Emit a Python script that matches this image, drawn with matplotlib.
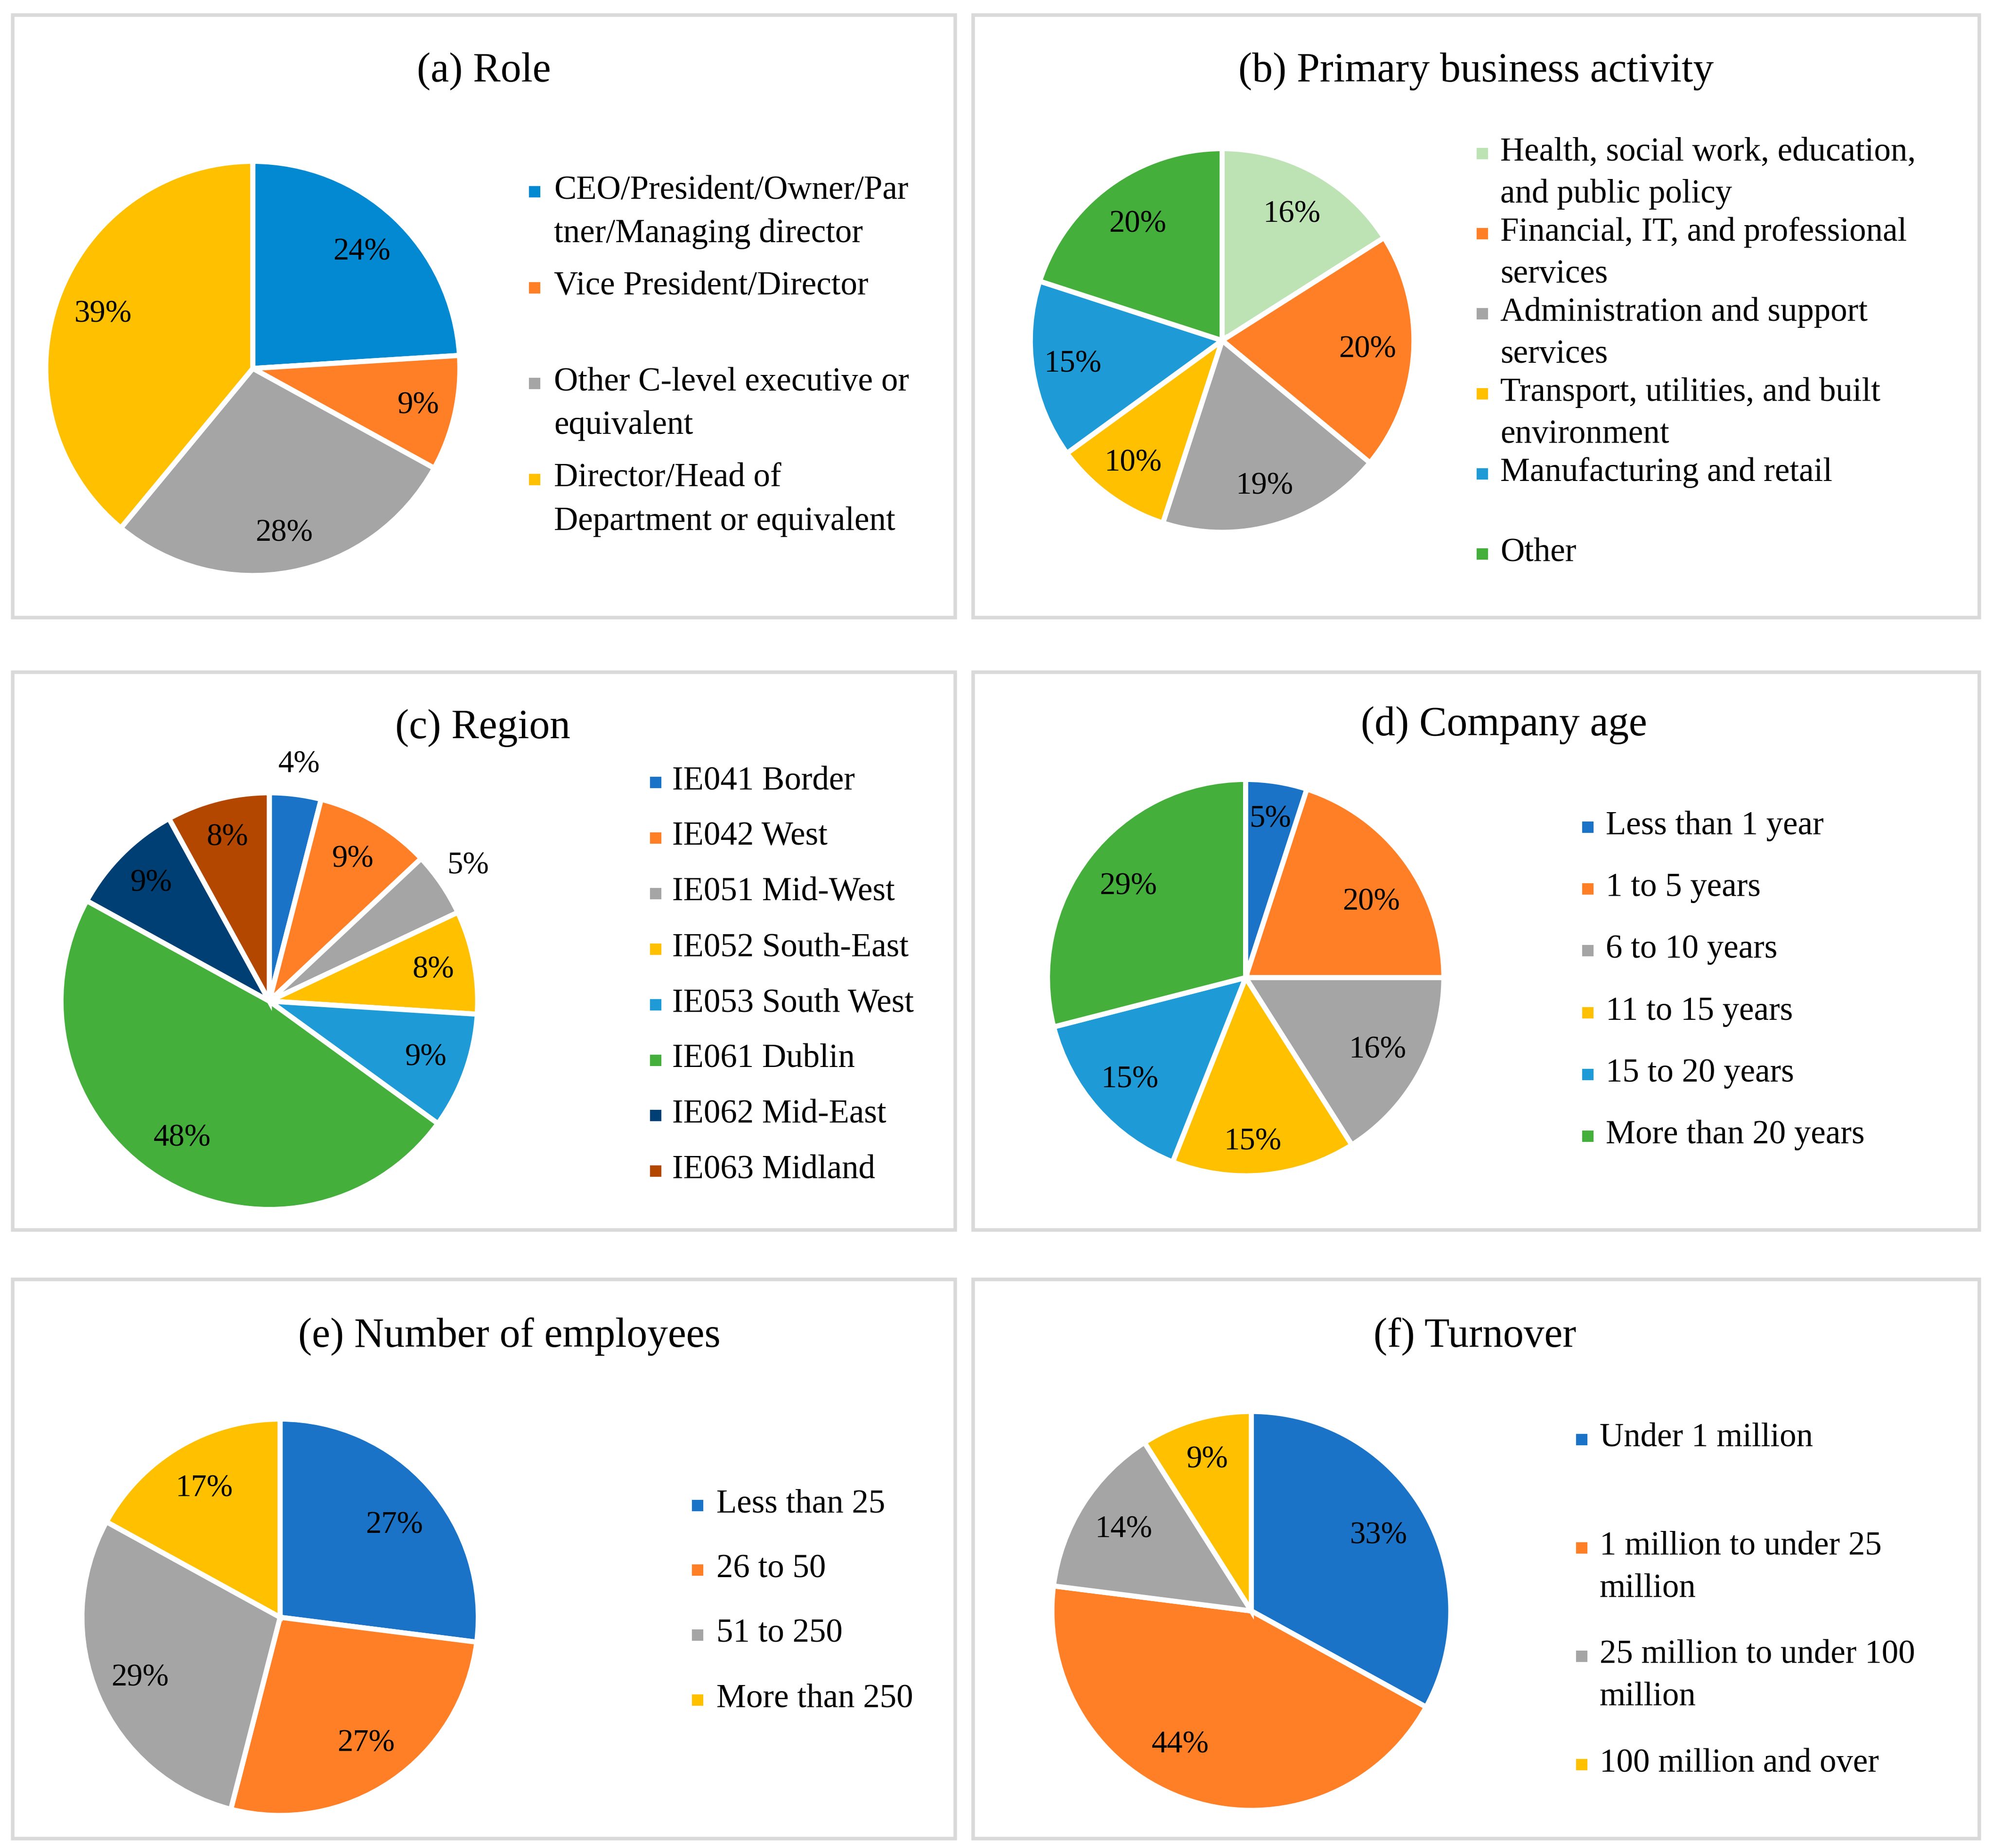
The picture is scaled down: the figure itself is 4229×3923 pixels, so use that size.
import matplotlib
matplotlib.use("Agg")
import matplotlib.pyplot as plt
import numpy as np
from matplotlib.patches import Rectangle

plt.rcParams['font.family'] = ['Liberation Serif', 'DejaVu Serif']

# ---- data ----
role_labels = ["CEO/President/Owner/Par\ntner/Managing director",
               "Vice President/Director",
               "Other C-level executive or\nequivalent",
               "Director/Head of\nDepartment or equivalent"]
role_values = [24, 9, 28, 39]

activity_labels = ["Health, social work, education,\nand public policy",
                   "Financial, IT, and professional\nservices",
                   "Administration and support\nservices",
                   "Transport, utilities, and built\nenvironment",
                   "Manufacturing and retail",
                   "Other"]
activity_values = [16, 20, 19, 10, 15, 20]

region_labels = ["IE041 Border", "IE042 West", "IE051 Mid-West", "IE052 South-East",
                 "IE053 South West", "IE061 Dublin", "IE062 Mid-East", "IE063 Midland"]
region_values = [4, 9, 5, 8, 9, 48, 9, 8]

age_labels = ["Less than 1 year", "1 to 5 years", "6 to 10 years",
              "11 to 15 years", "15 to 20 years", "More than 20 years"]
age_values = [5, 20, 16, 15, 15, 29]

employee_labels = ["Less than 25", "26 to 50", "51 to 250", "More than 250"]
employee_values = [27, 27, 29, 17]

turnover_labels = ["Under 1 million", "1 million to under 25\nmillion",
                   "25 million to under 100\nmillion", "100 million and over"]
turnover_values = [33, 44, 14, 9]

titles = ["(a) Role", "(b) Primary business activity", "(c) Region",
          "(d) Company age", "(e) Number of employees", "(f) Turnover"]

# ---- colours ----
BLUE = "#1A73C7"
ORANGE = "#FF7F27"
GREY = "#A5A5A5"
YELLOW = "#FFC000"
LBLUE = "#1E9BD7"
GREEN = "#44AF3B"
role_colors = ["#0289D2", ORANGE, GREY, YELLOW]
activity_colors = ["#BDE3B4", ORANGE, GREY, YELLOW, LBLUE, GREEN]
region_colors = [BLUE, ORANGE, GREY, YELLOW, LBLUE, GREEN, "#003F73", "#B34700"]
age_colors = [BLUE, ORANGE, GREY, YELLOW, LBLUE, GREEN]
employee_colors = [BLUE, ORANGE, GREY, YELLOW]
turnover_colors = [BLUE, ORANGE, GREY, YELLOW]

# ---- layout (in a 1568 x 1454.6 reference grid) ----
W, H = 1568.0, 1454.6
TITLE_FS = 21
LEG_FS = 17
PCT_FS = 16

fig = plt.figure(figsize=(4229 / 300, 3923 / 300), dpi=300)
base = fig.add_axes([0, 0, 1, 1])
base.set_xlim(0, W)
base.set_ylim(H, 0)
base.axis('off')


def draw_pie(cx, cy, r, values, colors, dists, nudges=None):
    if nudges is None:
        nudges = [0] * len(values)
    ax = fig.add_axes([(cx - r) / W, 1 - (cy + r) / H, 2 * r / W, 2 * r / H])
    wedges, _ = ax.pie(values, colors=colors, startangle=90, counterclock=False,
                       wedgeprops=dict(edgecolor='white', linewidth=2.6, clip_on=False))
    ax.set_xlim(-1, 1)
    ax.set_ylim(-1, 1)
    ax.set_aspect('equal')
    ax.axis('off')
    # label placement: distance from centre (fraction of radius) and angle nudge
    for w, v, d, n in zip(wedges, values, dists, nudges):
        ang = np.deg2rad((w.theta1 + w.theta2) / 2 + n)
        ax.text(d * np.cos(ang), d * np.sin(ang), f"{v}%", ha='center', va='center',
                fontsize=PCT_FS, clip_on=False)


def draw_legend(labels, colors, mx, tx, y0, dy, lh):
    for i, (lab, c) in enumerate(zip(labels, colors)):
        y = y0 + i * dy
        base.plot(mx, y + 1, marker='s', ms=5.0, color=c, linestyle='none')
        for j, line in enumerate(lab.split("\n")):
            base.text(tx, y + j * lh, line, ha='left', va='center', fontsize=LEG_FS)


boxes = [(10, 12, 752, 486), (766, 12, 1558, 486),
         (10, 529, 752, 968), (766, 529, 1558, 968),
         (10, 1007, 752, 1447), (766, 1007, 1558, 1447)]
title_pos = [(381, 56), (1162, 56), (380, 573), (1184, 571), (401, 1052), (1161, 1052)]

for (x0, y0, x1, y1) in boxes:
    base.add_patch(Rectangle((x0, y0), x1 - x0, y1 - y0, fill=False,
                             edgecolor="#D9D9D9", linewidth=1.8))
for t, (tx, ty) in zip(titles, title_pos):
    base.text(tx, ty, t, ha='center', va='center', fontsize=TITLE_FS)

# (a)
draw_pie(199, 290, 163, role_values, role_colors, [0.77, 0.82, 0.81, 0.77])
draw_legend(role_labels, role_colors, 421, 436, 150, 75.5, 34)
# (b)
draw_pie(962, 268, 151, activity_values, activity_colors,
         [0.75, 0.76, 0.79, 0.79, 0.79, 0.75])
draw_legend(activity_labels, activity_colors, 1167, 1181, 120, 63, 33)
# (c)
draw_pie(212, 788, 164, region_values, region_colors,
         [1.145, 0.79, 1.155, 0.80, 0.80, 0.78, 0.80, 0.81])
draw_legend(region_labels, region_colors, 516, 529, 615, 43.7, 33)
# (d)
draw_pie(980.5, 769.5, 156, age_values, age_colors,
         [0.81, 0.74, 0.76, 0.83, 0.78, 0.75], [0, -5, 0, -3, 0, 0])
draw_legend(age_labels, age_colors, 1250, 1264, 650, 48.7, 33)
# (e)
draw_pie(220.5, 1273, 156, employee_values, employee_colors,
         [0.74, 0.77, 0.77, 0.755], [-2.5, 0, 0, 0])
draw_legend(employee_labels, employee_colors, 549, 564, 1184, 51, 33)
# (f)
draw_pie(985, 1268, 157, turnover_values, turnover_colors,
         [0.74, 0.76, 0.76, 0.79], [0, -10, 0, 0])
draw_legend(turnover_labels, turnover_colors, 1245, 1259, 1132, 85.3, 33)

fig.savefig("out.png", dpi=300)
